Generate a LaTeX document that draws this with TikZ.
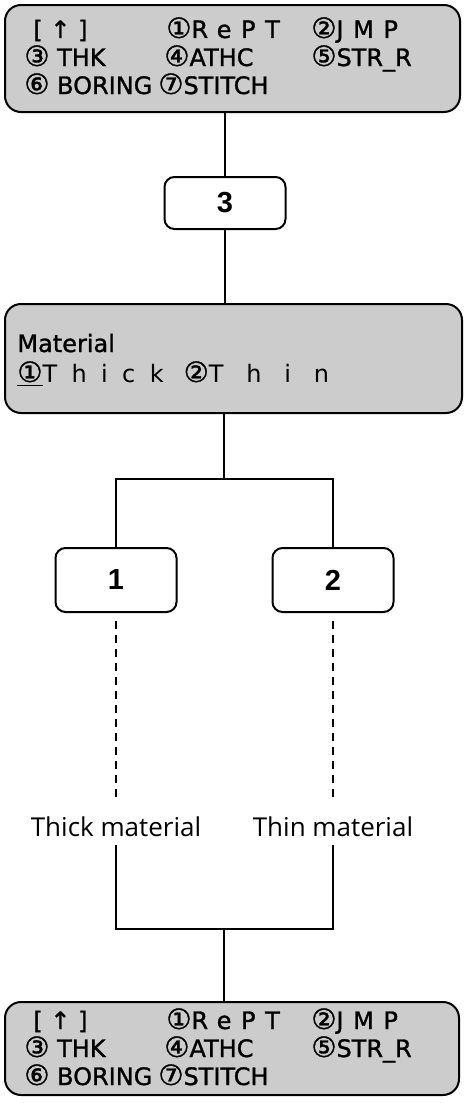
\documentclass[tikz,border=0pt]{standalone}
\usepackage{fontspec}
\usepackage{tikz}
\usetikzlibrary{calc, positioning}

\newfontfamily\lcdfont{DejaVu Sans}[FakeBold=1.2]
\newfontfamily\lcdwide{DejaVu Sans}[LetterSpace=40, FakeBold=1.2]
\newfontfamily\lcdwider{DejaVu Sans}[LetterSpace=60]
\newfontfamily\lcdwidest{DejaVu Sans}[LetterSpace=95]
\newfontfamily\keyfont{Liberation Sans}
\newfontfamily\labfont{Open Sans}
\newcommand\cnum[1]{{\fontsize{14}{14}\selectfont #1}}

\tikzset{
  lcdpanel/.style={draw, line width=1pt, rounded corners=8pt, fill=black!20, inner sep=0pt},
  keybox/.style={draw, line width=1pt, rounded corners=5pt, fill=white, minimum width=60.5pt,
    minimum height=32pt, inner sep=0pt, font=\keyfont\bfseries\fontsize{14.5}{16}\selectfont},
  lcdtxt/.style={anchor=base west, inner sep=0pt, font=\lcdfont\fontsize{12}{14}\selectfont},
  link/.style={line width=0.8pt},
  dashlink/.style={line width=0.8pt, dash pattern=on 4pt off 3pt},
  matlabel/.style={inner sep=1pt, font=\labfont\fontsize{13}{15}\selectfont},
}

\begin{document}
\begin{tikzpicture}[x=0.5pt, y=-0.5pt]
    % 0. Khung hình
    \useasboundingbox (0,0) rectangle (466,1103);

    % 1. Hai màn hình menu (trên và dưới)
    \node[lcdpanel, minimum width=227.5pt, minimum height=53.5pt] (lcdtop) at (232.5,58.5) {};
    \node[lcdpanel, minimum width=227pt, minimum height=46.5pt] (lcdbot) at (232,1048.5) {};
    \foreach \nm/\ry in {top/0, bot/991} {
        \node[lcdtxt] (\nm-up)   at (33,38+\ry)  {[ ↑ ]};
        \node[lcdtxt] (\nm-rept) at (166,38+\ry) {\cnum{①}{\lcdwide RePT}};
        \node[lcdtxt] (\nm-jmp)  at (311,38+\ry) {\cnum{②}{\lcdwide JMP}};
        \node[lcdtxt] (\nm-thk)  at (24,66+\ry)  {\cnum{③} THK};
        \node[lcdtxt] (\nm-athc) at (164,66+\ry) {\cnum{④}ATHC};
        \node[lcdtxt] (\nm-strr) at (311,66+\ry) {\cnum{⑤}STR\_R};
        \node[lcdtxt] (\nm-bor)  at (24,94+\ry)  {\cnum{⑥} BORING};
        \node[lcdtxt] (\nm-sti)  at (158,94+\ry) {\cnum{⑦}STITCH};
    }

    % 2. Phím 3 và màn hình chọn vật liệu
    \node[keybox, minimum height=26pt] (b3) at (225,203) {3};
    \node[lcdpanel, minimum width=228.5pt, minimum height=54.5pt] (matbox) at (233.5,358.5) {};
    \node[lcdtxt] (mattitle) at (17,352) {Material};
    \node[lcdtxt] (matopt)   at (17,382)
        {\underline{\cnum{①}}{\lcdwider Thick}\hspace{10pt}\cnum{②}{\lcdwidest Thin}};

    % 3. Phím 1, 2 và nhãn
    \node[keybox] (b1) at (116,580) {1};
    \node[keybox] (b2) at (333,580) {2};
    \node[matlabel] (lthick) at (116,827) {Thick material};
    \node[matlabel] (lthin)  at (333,827) {Thin material};

    % 4. Các đường nối
    \coordinate (jtop) at (224,479);
    \coordinate (jbot) at (224,929);
    \draw[link] (b3.north) -- (b3.north |- lcdtop.south);
    \draw[link] (b3.south) -- (b3.south |- matbox.north);
    \draw[link] (jtop |- matbox.south) -- (jtop);
    \draw[link] (b1.north) |- (jtop) -| (b2.north);
    \draw[dashlink, shorten <=4pt, shorten >=6pt] (b1.south) -- (b1.south |- lthick.north);
    \draw[dashlink, shorten <=4pt, shorten >=6pt] (b2.south) -- (b2.south |- lthin.north);
    \draw[link, shorten <=3pt, shorten >=3pt] (lthick.south) |- (jbot) -| (lthin.south);
    \draw[link] (jbot) -- (jbot |- lcdbot.north);
\end{tikzpicture}
\end{document}
